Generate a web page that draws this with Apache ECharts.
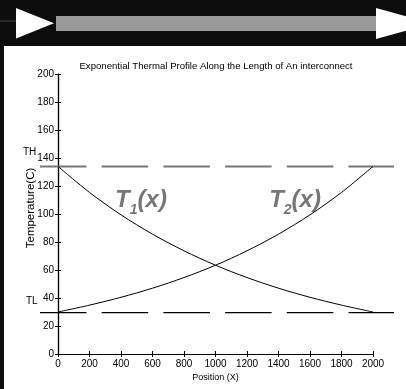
<!DOCTYPE html>
<html>
<head>
<meta charset="utf-8">
<script src="https://cdn.jsdelivr.net/npm/echarts@6/dist/echarts.min.js"></script>
<style>
html,body{margin:0;padding:0;background:#0d0d0d;}
#c{width:406px;height:389px;}
</style>
</head>
<body>
<div id="c"></div>
<script>
// Data
const positions = [0, 200, 400, 600, 800, 1000, 1200, 1400, 1600, 1800, 2000];
const t1Values = [134, 115.4, 99.4, 85.6, 73.7, 63.4, 54.6, 47.0, 40.5, 34.9, 30.0];
const t2Values = [30.0, 34.9, 40.5, 47.0, 54.6, 63.4, 73.7, 85.6, 99.4, 115.4, 134];
const TH = 134;
const TL = 29.5;
const xTicks = [0, 200, 400, 600, 800, 1000, 1200, 1400, 1600, 1800, 2000];
const yTicks = [0, 20, 40, 60, 80, 100, 120, 140, 160, 180, 200];
const labelPos1 = [527, 110];
const labelPos2 = [1505, 110];

const FONT = 'Liberation Sans, Arial, sans-serif';
const chart = echarts.init(document.getElementById('c'), null, {renderer: 'canvas'});

const axisLine = {show: true, lineStyle: {color: '#000', width: 1.2}};
const tickIn = {show: true, inside: true, length: 3, lineStyle: {color: '#000', width: 1}};
const lbl = {color: '#000', fontSize: 10, fontFamily: FONT, formatter: v => String(v)};

const richLbl = {
  a: {fontSize: 24, fontWeight: 'bold', fontStyle: 'italic', color: '#555', fontFamily: FONT, lineHeight: 34},
  b: {fontSize: 14, fontWeight: 'bold', fontStyle: 'italic', color: '#555', fontFamily: FONT, lineHeight: 10, verticalAlign: 'bottom'}
};

const option = {
  backgroundColor: '#0d0d0d',
  animation: false,
  title: {
    text: 'Exponential Thermal Profile Along the Length of An interconnect',
    left: 211, top: 56, textAlign: 'center',
    textStyle: {fontSize: 9.6, fontWeight: 'normal', color: '#000', fontFamily: FONT}
  },
  graphic: [
    {type: 'rect', z: -100, shape: {x: 4, y: 46, width: 402, height: 343}, style: {fill: '#fff'}},
    {type: 'line', z: -100, shape: {x1: 0, y1: 21, x2: 16, y2: 21}, style: {stroke: '#444', lineWidth: 1}},
    {type: 'polygon', z: -100, shape: {points: [[16, 8], [16, 38.5], [54, 23.3]]}, style: {fill: '#fff'}},
    {type: 'rect', z: -100, shape: {x: 56, y: 16, width: 320, height: 15}, style: {fill: '#999'}},
    {type: 'polygon', z: -100, shape: {points: [[376, 8], [376, 39], [432, 23.5]]}, style: {fill: '#fff'}},
    {type: 'text', style: {text: 'TH', x: 23, y: 152, verticalAlign: 'middle', fontSize: 10, fontFamily: FONT, fill: '#000'}},
    {type: 'text', style: {text: 'TL', x: 26, y: 301, verticalAlign: 'middle', fontSize: 10, fontFamily: FONT, fill: '#000'}}
  ],
  grid: [
    {left: 58, right: 33, top: 74, bottom: 35},
    {left: 40, right: 12, top: 74, bottom: 35}
  ],
  xAxis: [
    {type: 'value', gridIndex: 0, position: 'bottom', min: xTicks[0], max: xTicks[xTicks.length - 1], interval: 200,
     axisLine: axisLine, axisTick: tickIn, splitLine: {show: false},
     axisLabel: Object.assign({margin: 5}, lbl),
     name: 'Position (X)', nameLocation: 'middle', nameGap: 19, nameMoveOverlap: false,
     nameTextStyle: {color: '#000', fontSize: 9, fontFamily: FONT}},
    {type: 'value', gridIndex: 0, position: 'top', min: 0, max: 2000, interval: 200,
     axisLine: axisLine, axisTick: tickIn, splitLine: {show: false}, axisLabel: {show: false}},
    {type: 'value', gridIndex: 1, min: 0, max: 1, show: false}
  ],
  yAxis: [
    {type: 'value', gridIndex: 0, position: 'left', min: yTicks[0], max: yTicks[yTicks.length - 1], interval: 20,
     axisLine: axisLine, axisTick: tickIn, splitLine: {show: false},
     axisLabel: Object.assign({margin: 4}, lbl),
     name: 'Temperature(C)', nameLocation: 'middle', nameGap: 21, nameRotate: 90, nameMoveOverlap: false,
     nameTextStyle: {color: '#000', fontSize: 11.5, fontFamily: FONT, padding: [0, 0, 0, 12]}},
    {type: 'value', gridIndex: 0, position: 'right', min: 0, max: 200, interval: 20,
     axisLine: axisLine, axisTick: tickIn, splitLine: {show: false}, axisLabel: {show: false}},
    {type: 'value', gridIndex: 1, min: 0, max: 200, show: false}
  ],
  series: [
    {type: 'line', xAxisIndex: 2, yAxisIndex: 2, data: [[0, TH], [1, TH]], symbol: 'none', silent: true,
     lineStyle: {color: '#777', width: 2, type: [46.5, 15.2]}},
    {type: 'line', xAxisIndex: 2, yAxisIndex: 2, data: [[0, TL], [1, TL]], symbol: 'none', silent: true,
     lineStyle: {color: '#000', width: 1.2, type: [46.5, 15.2]}},
    {type: 'line', xAxisIndex: 0, yAxisIndex: 0, data: positions.map((p, i) => [p, t1Values[i]]),
     symbol: 'none', smooth: 0.3, lineStyle: {color: '#000', width: 1}},
    {type: 'line', xAxisIndex: 0, yAxisIndex: 0, data: positions.map((p, i) => [p, t2Values[i]]),
     symbol: 'none', smooth: 0.3, lineStyle: {color: '#000', width: 1}},
    {type: 'scatter', xAxisIndex: 0, yAxisIndex: 0, symbolSize: 0, silent: true,
     data: [
       {value: labelPos1, label: {formatter: '{a|T}{b|1}{a|(x)}'}},
       {value: labelPos2, label: {formatter: '{a|T}{b|2}{a|(x)}'}}
     ],
     label: {show: true, position: 'inside', rich: richLbl}}
  ]
};
chart.setOption(option);
</script>
</body>
</html>
